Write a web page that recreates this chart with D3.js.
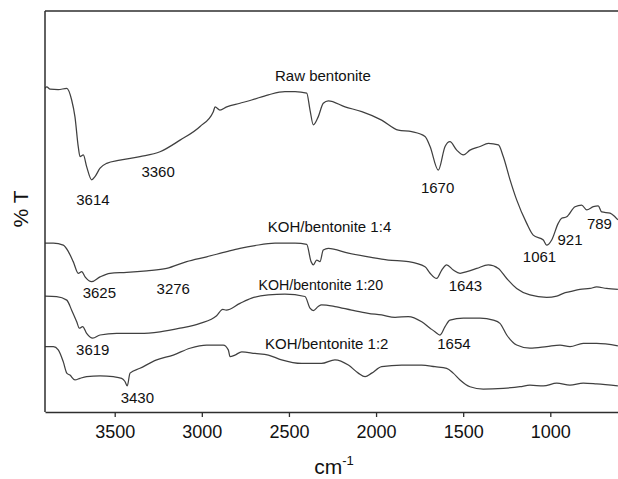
<!DOCTYPE html>
<html>
<head>
<meta charset="utf-8">
<script src="https://cdn.jsdelivr.net/npm/d3@7"></script>
<style>
  html, body { margin: 0; padding: 0; background: #fff; }
  svg { display: block; font-family: "Liberation Sans", Arial, sans-serif; }
</style>
</head>
<body>
<svg id="chart" width="618" height="479"></svg>
<script>
// ---- Data (wavenumber cm^-1, %T offset units) ----
const rawWn = [3900,3890,3871,3824,3775,3747,3728,3709,3699,3680,3661,3632,3613,3584,3546,3470,3355,3240,3125,3010,2934,2924,2896,2857,2781,2714,2618,2523,2465,2398,2379,2360,2332,2303,2274,2178,2082,1968,1872,1795,1719,1690,1643,1604,1576,1537,1499,1461,1403,1356,1298,1270,1231,1193,1136,1098,1040,1021,992,954,935,906,858,820,791,753,725,705,657,629,612];
const rawT  = [80.7,81.1,80.5,80.4,80.7,77.8,73.6,66.1,63.7,64.1,61.2,57.9,58.7,60.8,62.0,62.8,63.7,64.9,67.8,71.2,74.9,76.1,75.3,76.1,77.0,77.8,79.1,79.9,79.9,79.5,75.3,71.6,73.6,77.0,77.6,76.1,74.9,72.8,70.3,69.9,68.7,66.2,60.3,66.2,67.4,65.3,64.1,65.3,66.2,67.0,66.6,63.7,57.9,52.9,47.1,44.1,42.9,41.6,42.9,47.1,48.3,48.7,51.2,51.6,50.4,51.2,51.4,49.9,49.6,48.7,47.9];

const k14Wn = [3900,3852,3795,3766,3738,3709,3689,3670,3632,3584,3527,3431,3316,3202,3087,2972,2857,2781,2695,2580,2465,2398,2373,2360,2341,2322,2303,2274,2159,2045,1930,1815,1719,1690,1652,1623,1595,1557,1518,1479,1422,1356,1298,1250,1193,1117,1021,963,925,887,830,772,734,677,612];
const k14T  = [42.1,42.1,41.6,40.0,37.5,34.6,35.0,33.7,32.5,33.7,34.6,34.8,35.2,35.8,37.5,38.7,40.0,40.8,41.5,42.1,42.1,41.8,37.5,36.7,37.9,37.5,40.4,40.8,39.6,38.7,37.9,37.5,36.2,34.6,33.3,35.4,36.7,35.4,34.6,35.0,35.8,36.7,35.8,33.3,30.8,29.2,28.6,28.9,29.6,30.0,30.6,30.8,31.2,30.8,30.6];

const k120Wn = [3900,3833,3775,3747,3718,3703,3684,3661,3626,3584,3489,3355,3240,3125,3010,2915,2880,2860,2781,2714,2618,2523,2408,2379,2360,2332,2313,2236,2140,2045,1968,1891,1815,1738,1690,1662,1633,1604,1576,1499,1403,1327,1289,1250,1193,1117,1021,944,887,811,734,612];
const k120T  = [28.9,28.8,27.9,25.4,22.5,20.9,21.3,19.6,18.4,19.2,19.6,19.6,20.0,20.9,22.1,24.0,25.6,25.4,27.1,28.4,29.2,29.4,28.8,25.9,25.3,26.3,26.7,26.3,25.4,24.6,24.2,23.6,23.8,22.5,20.9,20.0,19.2,21.3,22.9,23.4,23.4,22.9,22.1,19.2,16.7,15.9,16.3,16.7,16.3,17.1,17.1,16.5];

const k12Wn = [3900,3852,3824,3795,3775,3757,3728,3699,3661,3584,3508,3460,3441,3428,3412,3355,3259,3164,3068,2972,2877,2848,2838,2810,2771,2695,2618,2542,2427,2313,2236,2159,2102,2063,2025,1968,1853,1738,1662,1595,1557,1518,1461,1385,1270,1174,1117,1040,963,887,811,734,612];
const k12T  = [16.3,16.3,15.5,12.5,9.7,9.2,8.0,8.4,8.8,9.0,8.8,8.4,7.6,6.5,9.7,10.9,13.0,14.2,15.9,16.7,16.7,15.5,13.8,14.2,15.0,14.6,14.2,13.0,12.1,12.1,13.0,11.7,9.7,8.8,9.7,11.3,11.7,11.7,11.3,10.9,9.7,8.0,6.3,5.7,5.9,6.3,6.7,6.5,7.2,6.7,7.2,7.0,6.5];

const seriesNames = ["Raw bentonite","KOH/bentonite 1:4","KOH/bentonite 1:20","KOH/bentonite 1:2"];
const tickValues = [3500,3000,2500,2000,1500,1000];

// annotation texts with anchor wavenumber / %T
const labelText = ["Raw bentonite","3614","3360","1670","789","921","1061",
                   "KOH/bentonite 1:4","3625","3276","1643",
                   "KOH/bentonite 1:20","3619","1654",
                   "KOH/bentonite 1:2","3430"];
const labelWn = [2305,3625,3251,1647,718,887,1062, 2267,3588,3164,1487, 2317,3626,1553, 2283,3370];
const labelT  = [84.0,53.0,59.9,56.0,46.9,43.1,38.7, 46.3,29.8,30.8,31.4, 31.7,15.5,17.1, 17.1,3.7];

// ---- Drawing ----
const svg = d3.select("#chart");
const L = 45, R = 620, T = 11, B = 412;
const x = d3.scaleLinear().domain([3900, 600]).range([L, R]);
const y = d3.scaleLinear().domain([0, 100]).range([B, T]);

const ink = "#2e2e2e";

const series = [
  {wn: rawWn, t: rawT},
  {wn: k14Wn, t: k14T},
  {wn: k120Wn, t: k120T},
  {wn: k12Wn, t: k12T}
];

const line = d3.line()
  .x(d => x(d[0]))
  .y(d => y(d[1]))
  .curve(d3.curveMonotoneX);

svg.append("defs").append("clipPath").attr("id","clip")
  .append("rect").attr("x", L).attr("y", T).attr("width", R - L).attr("height", B - T);

svg.append("g").attr("clip-path","url(#clip)")
  .selectAll("path").data(series).join("path")
  .attr("d", s => line(s.wn.map((w, i) => [w, s.t[i]])))
  .attr("fill", "none")
  .attr("stroke", "#404040")
  .attr("stroke-width", 1.25)
  .attr("stroke-linejoin", "round");

// frame: top and left lines
svg.append("line").attr("x1", L).attr("x2", 618).attr("y1", T).attr("y2", T)
  .attr("stroke", ink).attr("stroke-width", 1.5);
svg.append("line").attr("x1", L).attr("x2", L).attr("y1", T).attr("y2", B)
  .attr("stroke", ink).attr("stroke-width", 1.5);

// bottom axis
const axis = svg.append("g").attr("transform", `translate(0,${B})`)
  .call(d3.axisBottom(x).tickValues(tickValues).tickFormat(d3.format("d"))
        .tickSize(5).tickSizeOuter(0).tickPadding(8.5));
axis.select(".domain").attr("stroke", ink).attr("stroke-width", 1.5);
axis.selectAll(".tick line").attr("stroke", ink).attr("stroke-width", 1.3);
axis.selectAll(".tick text").attr("font-size", 18).attr("fill", "#111")
  .attr("font-family", "Liberation Sans, Arial, sans-serif");

// axis titles
const xt = svg.append("text").attr("x", 334).attr("y", 474)
  .attr("text-anchor", "middle").attr("font-size", 21).attr("fill", "#111");
xt.append("tspan").text("cm");
xt.append("tspan").attr("dy", -9).attr("font-size", 13).text("-1");

svg.append("text")
  .attr("transform", "translate(28,209) rotate(-90)")
  .attr("text-anchor", "middle")
  .attr("font-size", 21).attr("fill", "#111")
  .text("% T");

// annotations
svg.append("g").selectAll("text").data(labelText).join("text")
  .attr("x", (d, i) => x(labelWn[i]))
  .attr("y", (d, i) => y(labelT[i]))
  .attr("dy", "0.36em")
  .attr("text-anchor", "middle")
  .attr("font-size", d => d === seriesNames[2] ? 14.2 : 15)
  .attr("fill", "#111")
  .text(d => d);
</script>
</body>
</html>
